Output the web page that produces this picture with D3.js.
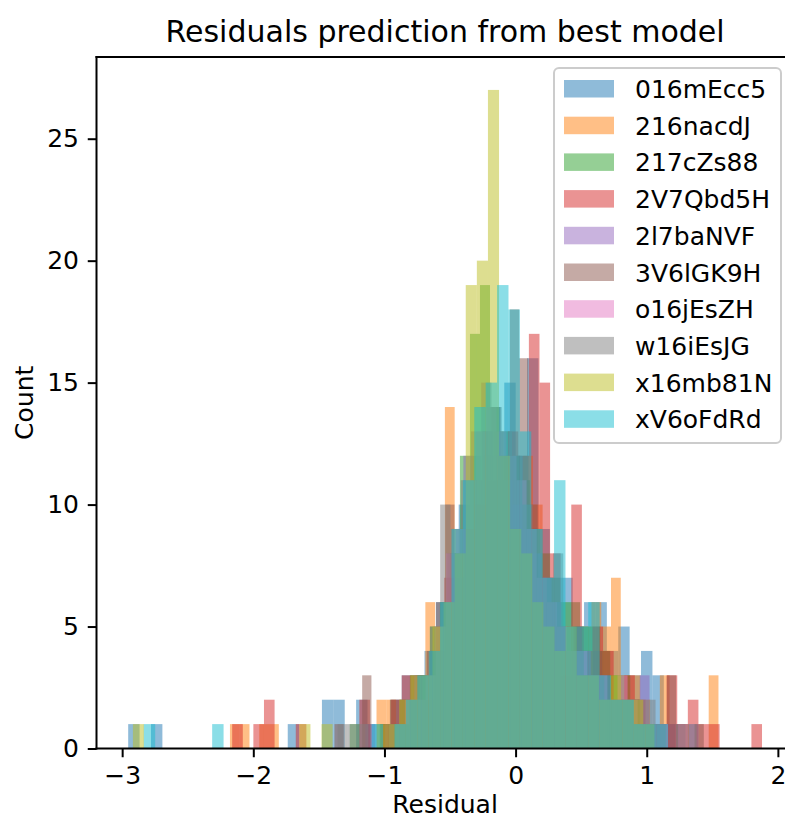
<!DOCTYPE html>
<html>
<head>
<meta charset="utf-8">
<script src="https://cdn.jsdelivr.net/npm/d3@7"></script>
<style>
  html, body { margin: 0; padding: 0; background: #ffffff; }
  svg { display: block; }
  text { font-family: "DejaVu Sans", sans-serif; }
</style>
</head>
<body>
<div id="chart"></div>
<script>
// Series (model ids) in drawing / legend order
const seriesNames = ["016mEcc5", "216nacdJ", "217cZs88", "2V7Qbd5H", "2l7baNVF",
                     "3V6lGK9H", "o16jEsZH", "w16iEsJG", "x16mb81N", "xV6oFdRd"];
const seriesColors = ["#1f77b4", "#ff7f0e", "#2ca02c", "#d62728", "#9467bd",
                      "#8c564b", "#e377c2", "#7f7f7f", "#bcbd22", "#17becf"];

// Left edge of the first bin and bin width (residual units) for each series
const binStarts = [-2.954, -2.178, -1.876, -2.161, -1.145, -1.381, -0.917, -1.357, -2.918, -2.835];
const binWidths = [0.0869, 0.0745, 0.0764, 0.0808, 0.0747, 0.0704, 0.0770, 0.0782, 0.0846, 0.0869];

// Histogram counts per bin
const counts016mEcc5 = [1,0,1,0,0,0,0,0,0,0, 0,0,0,0,1,0,0,2,2,0, 2,1,1,2,3,3,4,6,8,10,
                        12,13,11,15,12,16,9,7,7,5, 6,6,4,5,3,4,3,1];
const counts216nacdJ = [1,1,0,1,1,0,0,0,0,0, 0,0,0,0,0,2,2,1,2,3, 6,4,14,9,8,10,12,13,12,9,
                        12,10,6,5,5,4,5,6,5,7, 3,3,2,1,3,1,1,0,0,3];
const counts217cZs88 = [0,0,0,0,0,0,0,0,1,0, 0,1,1,2,3,3,5,6,8,12, 17,19,14,13,12,11,9,8,7,6,
                        6,5,5,4,3,3,2,1,1];
const counts2V7Qbd5H = [1,0,1,2,0,0,1,0,0,0, 0,0,2,0,1,2,3,3,2,4, 7,8,9,10,11,12,13,12,17,15,
                        8,3,10,4,5,4,2,3,2,1, 1,3,1,2,1,1,0,0,0,1];
const counts2l7baNVF = [1,0,1,1,2,3,3,5,6,7, 12,11,13,12,11,10,9,8,7,6, 5,4,4,3,3,2,2,2,3,1,
                        1,1,0,1];
const counts3V6lGK9H = [1,0,0,3,0,1,2,2,2,3, 4,6,10,7,9,11,13,14,12,18, 16,10,7,6,5,4,5,3,4,3,
                        2,2,2,1,1,1,3,1,0,1];
const countso16jEsZH = [1,2,2,3,5,8,9,11,13,14, 13,12,11,9,7,6,5,4,4,3, 3,2,3,2,1,1,1,0,1];
const countsw16iEsJG = [1,1,1,0,0,1,1,2,3,5, 10,9,11,13,15,14,13,12,10,9, 7,8,5,4,3,3,2,2,2,2,
                        2,1,0,1,1];
const countsx16mb81N = [1,0,0,0,0,0,0,0,0,0, 0,0,0,0,0,1,0,1,0,0, 0,0,1,1,2,3,3,5,6,8,
                        19,20,27,12,9,8,6,5,4,5, 3,3,2,3,2,2,1];
const countsxV6oFdRd = [1,0,0,0,0,0,1,0,0,0, 0,0,0,0,0,0,0,0,0,0, 1,0,1,2,3,4,6,9,11,14,
                        15,19,18,13,9,7,11,5,5,6, 3,2,2,1,1,1];

const seriesCounts = [counts016mEcc5, counts216nacdJ, counts217cZs88, counts2V7Qbd5H, counts2l7baNVF,
                      counts3V6lGK9H, countso16jEsZH, countsw16iEsJG, countsx16mb81N, countsxV6oFdRd];

const xTicks = [-3, -2, -1, 0, 1, 2];
const yTicks = [0, 5, 10, 15, 20, 25];

const titleText = "Residuals prediction from best model";
const xLabel = "Residual";
const yLabel = "Count";

// ---- layout ----
const W = 785, H = 822;
const plot = { left: 96.5, right: 793.7, top: 57, bottom: 748.5 };
const tickLen = 8.75, tickPad = 8.75, lw = 2;

const svg = d3.select("#chart").append("svg")
  .attr("width", W).attr("height", H);

// x-range padded 5% around the outermost bin edges
const edges = seriesCounts.flatMap((c, i) => [binStarts[i], binStarts[i] + binWidths[i] * c.length]);
const xMin = d3.min(edges), xMax = d3.max(edges);
const xPad = (xMax - xMin) * 0.05;
const maxCount = d3.max(seriesCounts.flat());

const x = d3.scaleLinear().domain([xMin - xPad, xMax + xPad]).range([plot.left, plot.right]);
const y = d3.scaleLinear().domain([0, maxCount * 1.05]).range([plot.bottom, plot.top]);

// Bars: one translucent histogram per series
seriesCounts.forEach((cts, s) => {
  const bins = cts.map((c, i) => ({
    x0: binStarts[s] + i * binWidths[s],
    x1: binStarts[s] + (i + 1) * binWidths[s],
    c
  })).filter(d => d.c > 0);
  svg.append("g")
    .selectAll("rect")
    .data(bins)
    .join("rect")
    .attr("x", d => x(d.x0))
    .attr("width", d => x(d.x1) - x(d.x0))
    .attr("y", d => y(d.c))
    .attr("height", d => y(0) - y(d.c))
    .attr("fill", seriesColors[s])
    .attr("fill-opacity", 0.5);
});

// Axes
const intFmt = d3.format("d");
const xAxis = svg.append("g")
  .attr("transform", `translate(0,${plot.bottom})`)
  .call(d3.axisBottom(x).tickValues(xTicks).tickFormat(intFmt).tickSize(tickLen).tickPadding(tickPad));
const yAxis = svg.append("g")
  .attr("transform", `translate(${plot.left},0)`)
  .call(d3.axisLeft(y).tickValues(yTicks).tickFormat(intFmt).tickSize(tickLen).tickPadding(tickPad));

[xAxis, yAxis].forEach(g => {
  g.select(".domain").remove();
  g.selectAll(".tick line").attr("stroke", "#000").attr("stroke-width", lw);
  g.selectAll(".tick text")
    .attr("fill", "#000")
    .style("font-family", "'DejaVu Sans', sans-serif")
    .style("font-size", "25px");
});

// Frame
const frame = svg.append("g").attr("stroke", "#000").attr("stroke-width", lw)
  .attr("stroke-linecap", "square");
frame.append("line").attr("x1", plot.left).attr("x2", plot.left).attr("y1", plot.top).attr("y2", plot.bottom);
frame.append("line").attr("x1", plot.right).attr("x2", plot.right).attr("y1", plot.top).attr("y2", plot.bottom);
frame.append("line").attr("x1", plot.left).attr("x2", plot.right).attr("y1", plot.bottom).attr("y2", plot.bottom);
frame.append("line").attr("x1", plot.left).attr("x2", plot.right).attr("y1", plot.top).attr("y2", plot.top);

// Title and axis labels
const cx = (plot.left + plot.right) / 2;
svg.append("text").attr("x", cx).attr("y", 42)
  .attr("text-anchor", "middle").style("font-size", "30px").text(titleText);
svg.append("text").attr("x", cx).attr("y", 813)
  .attr("text-anchor", "middle").style("font-size", "25px").text(xLabel);
svg.append("text")
  .attr("transform", `translate(33,${(plot.top + plot.bottom) / 2}) rotate(-90)`)
  .attr("text-anchor", "middle").style("font-size", "25px").text(yLabel);

// Legend
const lg = svg.append("g");
lg.append("rect")
  .attr("x", 554).attr("y", 68).attr("width", 227).attr("height", 375)
  .attr("rx", 5).attr("ry", 5)
  .attr("fill", "#ffffff").attr("fill-opacity", 0.8)
  .attr("stroke", "#cccccc").attr("stroke-width", 2);
const rowH = 36.7;
const rows = lg.selectAll("g.row").data(seriesNames).join("g")
  .attr("class", "row")
  .attr("transform", (d, i) => `translate(0,${80 + i * rowH})`);
rows.append("rect")
  .attr("x", 564).attr("y", 0).attr("width", 50).attr("height", 17.5)
  .attr("fill", (d, i) => seriesColors[i]).attr("fill-opacity", 0.5);
rows.append("text")
  .attr("x", 635).attr("y", 18)
  .style("font-size", "25px").text(d => d);
</script>
</body>
</html>
